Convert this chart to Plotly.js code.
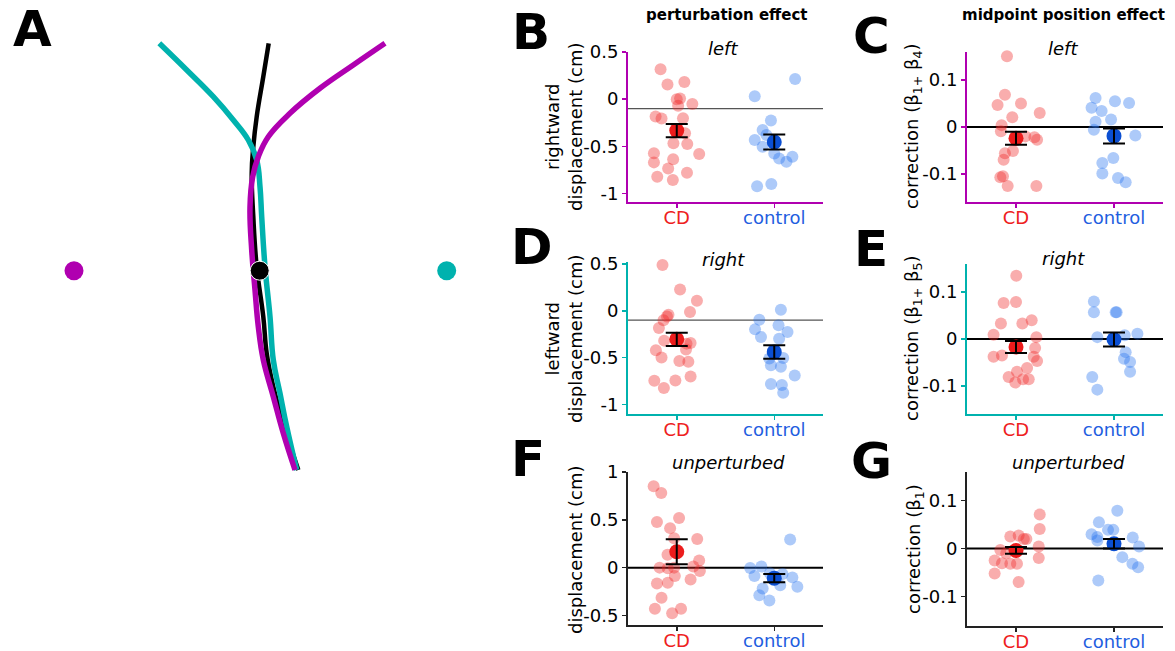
<!DOCTYPE html>
<html><head><meta charset="utf-8">
<script src="https://cdn.plot.ly/plotly-3.0.1.min.js"></script>
<style>body{margin:0;background:#fff}#chart{width:1175px;height:651px}</style>
</head><body><div id="chart"></div>
<script>
// ---------- Panel A: trajectories ----------
const trajBlackX = [268.7,263.3,256.7,253.3,251.7,253.3,256.7,263.3,266.7,273.3,283.3,298.3];
const trajBlackY = [43.3,76.7,116.7,146.7,173.3,216.7,266.7,316.7,353.3,386.7,423.3,470];
const trajTealX = [159.3,186.7,213.3,233.3,248.3,256.7,260,261.7,265,270,273.3,280,286.7,296.7];
const trajTealY = [43.3,70,96.7,120,140,160,186.7,216.7,266.7,316.7,360,393.3,426.7,470];
const trajMagX = [385,353.3,320,290,268.3,258.3,252.7,250,251.7,255,258.3,263.3,273.3,283.3,295];
const trajMagY = [43.3,65,88.3,113.3,136.7,156.7,176.7,206.7,250,290,326.7,360,396.7,433.3,470];
const targetX = [74,259.7,446.7];
const targetY = [270.7,270.7,270.7];

// ---------- Group scatter data ----------
const categories = ['CD','control'];

// B: left, perturbation effect
const cdB_jit = [-0.166,-0.095,0.078,0.034,0.0,0.014,0.16,-0.217,-0.156,0.064,0.085,-0.034,0.108,-0.234,0.23,-0.037,-0.234,-0.088,0.105,-0.2,-0.04];
const cdB = [0.316,0.156,0.181,0.007,0.0,-0.07,-0.05,-0.184,-0.206,-0.202,-0.362,-0.468,-0.475,-0.574,-0.582,-0.638,-0.67,-0.734,-0.78,-0.823,-0.858];
const ctlB_jit = [-0.2,0.214,-0.034,-0.119,-0.2,-0.119,0.0,0.05,0.186,0.125,-0.176,-0.03,-0.08];
const ctlB = [0.032,0.213,-0.227,-0.326,-0.433,-0.504,-0.575,-0.628,-0.61,-0.663,-0.922,-0.9,-0.38];
const meanB = [-0.333,-0.454];
const semB = [0.071,0.08];

// C: left, midpoint position effect
const cdC_jit = [-0.092,-0.113,-0.188,0.051,0.242,-0.038,-0.147,-0.154,0.188,0.215,-0.031,-0.113,-0.126,-0.133,-0.16,-0.085,0.208,0.096];
const cdC = [0.151,0.069,0.047,0.05,0.03,0.021,0.004,-0.009,-0.022,-0.027,-0.051,-0.056,-0.07,-0.105,-0.107,-0.126,-0.126,-0.02];
const ctlC_jit = [-0.188,0.01,0.154,-0.229,-0.126,-0.188,-0.03,-0.205,0.218,-0.007,-0.119,-0.119,0.041,0.119];
const ctlC = [0.062,0.055,0.051,0.041,0.034,0.011,0.016,-0.006,-0.018,-0.066,-0.077,-0.099,-0.109,-0.118];
const meanC = [-0.024,-0.019];
const semC = [0.014,0.016];

// D: right, perturbation effect
const cdD_jit = [-0.146,0.034,0.207,0.136,-0.085,-0.136,-0.183,-0.129,0.1,0.142,-0.214,0.095,-0.156,0.027,0.119,0.142,-0.23,-0.014,-0.132,-0.1];
const cdD = [0.488,0.226,0.106,-0.014,-0.042,-0.1,-0.184,-0.318,-0.35,-0.343,-0.42,-0.413,-0.498,-0.534,-0.544,-0.7,-0.746,-0.742,-0.823,-0.06];
const ctlD_jit = [0.068,-0.153,0.044,-0.197,0.136,-0.136,0.05,-0.05,0.092,-0.034,0.068,0.21,-0.034,0.078,0.092];
const ctlD = [0.011,-0.095,-0.155,-0.198,-0.226,-0.279,-0.297,-0.509,-0.502,-0.58,-0.597,-0.69,-0.78,-0.79,-0.873];
const meanD = [-0.304,-0.438];
const semD = [0.071,0.072];

// E: right, midpoint position effect
const cdE_jit = [0.003,-0.126,0,-0.154,0.065,0.16,-0.229,0.208,0.195,-0.229,-0.143,0.181,0.215,0.113,0.01,-0.075,0.072,0.13,-0.007];
const cdE = [0.135,0.077,0.079,0.033,0.033,0.04,0.009,0.004,-0.019,-0.038,-0.035,-0.038,-0.047,-0.062,-0.07,-0.081,-0.086,-0.086,-0.093];
const ctlE_jit = [-0.205,-0.205,0.017,0.027,-0.17,0.239,0.109,0.119,0.102,0.164,0.164,-0.222,-0.17];
const ctlE = [0.08,0.057,0.057,0.057,0.004,0.011,0.008,-0.028,-0.042,-0.049,-0.07,-0.081,-0.108];
const meanE = [-0.017,-0.001];
const semE = [0.013,0.015];

// F: unperturbed, displacement
const cdF_jit = [-0.237,-0.159,-0.203,0.024,-0.068,-0.027,0.21,-0.095,0.23,-0.176,-0.092,0.17,0.237,-0.02,0.142,-0.203,-0.092,-0.156,-0.224,0.044,-0.047,-0.027];
const cdF = [0.852,0.781,0.477,0.519,0.413,0.307,0.3,0.134,0.074,0,-0.007,0.011,-0.035,-0.088,-0.124,-0.166,-0.159,-0.314,-0.431,-0.431,-0.477,0.0];
const ctlF_jit = [0.163,-0.247,-0.132,-0.044,0.085,0.186,-0.203,0.061,0.237,-0.119,-0.153,-0.05];
const ctlF = [0.293,-0.004,0.011,-0.06,-0.067,-0.102,-0.088,-0.184,-0.201,-0.219,-0.29,-0.343];
const meanF = [0.166,-0.11];
const semF = [0.13,0.044];

// G: unperturbed, correction
const cdG_jit = [0.242,0.242,-0.058,0.027,0.106,0.232,-0.16,-0.099,0.232,-0.218,-0.143,-0.058,0.01,-0.218,0.027,0.08];
const cdG = [0.071,0.041,0.025,0.027,0.02,0.004,-0.003,-0.01,-0.02,-0.025,-0.031,-0.032,-0.032,-0.052,-0.07,0.02];
const ctlG_jit = [0.034,-0.154,-0.061,-0.007,-0.229,-0.17,0.191,-0.17,0.256,0.085,0.188,0.246,-0.16];
const ctlG = [0.079,0.055,0.039,0.039,0.03,0.024,0.023,0.017,0.004,-0.018,-0.032,-0.039,-0.067];
const meanG = [-0.004,0.01];
const semG = [0.007,0.01];

// tick labels
const dispTickVals = [-1,-0.5,0,0.5];
const dispTickText = ['-1','-0.5','0','0.5'];
const dispFTickVals = [-0.5,0,0.5,1];
const dispFTickText = ['-0.5','0','0.5','1'];
const corrTickVals = [-0.1,0,0.1];
const corrTickText = ['-0.1','0','0.1'];

// ---------- styling ----------
const W = 1175, H = 651;
const FONT = 'DejaVu Sans, Liberation Sans, Arial, sans-serif';
const px = x => x / W;
const py = y => 1 - y / H;
const MAG = '#b000b0', TEAL = '#00b2ae';
const RED_PT = 'rgba(240,40,40,0.38)', BLUE_PT = 'rgba(40,115,240,0.38)';
const RED_M = '#ec1c1c', BLUE_M = '#0b4fd2';
const RED_T = '#ee2020', BLUE_T = '#1f5ee0';

const panels = [
  {n:2, cdJ:cdB_jit, cd:cdB, ctJ:ctlB_jit, ct:ctlB, mean:meanB, sem:semB, range:[-1.09,0.5], tv:dispTickVals, tt:dispTickText, col:MAG, ref:-0.1, refCol:'#555555', refW:1.3, dom:[[628,823],[52,202]]},
  {n:3, cdJ:cdC_jit, cd:cdC, ctJ:ctlC_jit, ct:ctlC, mean:meanC, sem:semC, range:[-0.16,0.16], tv:corrTickVals, tt:corrTickText, col:MAG, ref:0, refCol:'#000', refW:2, dom:[[967,1163],[52,202]]},
  {n:4, cdJ:cdD_jit, cd:cdD, ctJ:ctlD_jit, ct:ctlD, mean:meanD, sem:semD, range:[-1.1,0.52], tv:dispTickVals, tt:dispTickText, col:TEAL, ref:-0.1, refCol:'#555555', refW:1.3, dom:[[628,823],[262,414]]},
  {n:5, cdJ:cdE_jit, cd:cdE, ctJ:ctlE_jit, ct:ctlE, mean:meanE, sem:semE, range:[-0.16,0.16], tv:corrTickVals, tt:corrTickText, col:TEAL, ref:0, refCol:'#000', refW:2, dom:[[967,1163],[264,414]]},
  {n:6, cdJ:cdF_jit, cd:cdF, ctJ:ctlF_jit, ct:ctlF, mean:meanF, sem:semF, range:[-0.6,1.0], tv:dispFTickVals, tt:dispFTickText, col:'#222', ref:0, refCol:'#000', refW:2, dom:[[628,823],[472,625]]},
  {n:7, cdJ:cdG_jit, cd:cdG, ctJ:ctlG_jit, ct:ctlG, mean:meanG, sem:semG, range:[-0.162,0.16], tv:corrTickVals, tt:corrTickText, col:'#222', ref:0, refCol:'#000', refW:2, dom:[[967,1163],[472,626]]}
];

const traces = [];
const layout = {
  width: W, height: H, margin:{l:0,r:0,t:0,b:0},
  paper_bgcolor:'#fff', plot_bgcolor:'rgba(0,0,0,0)',
  showlegend:false, font:{family:FONT, size:18, color:'#000'},
  shapes:[], annotations:[]
};

// Panel A
layout.xaxis = {domain:[0, px(500)], range:[0,500], visible:false, fixedrange:true};
layout.yaxis = {domain:[0,1], range:[651,0], visible:false, fixedrange:true};
traces.push({x:trajBlackX, y:trajBlackY, xaxis:'x', yaxis:'y', mode:'lines', line:{color:'#000', width:4.5, shape:'spline', smoothing:1.2}, hoverinfo:'skip'});
traces.push({x:trajTealX, y:trajTealY, xaxis:'x', yaxis:'y', mode:'lines', line:{color:TEAL, width:5.5, shape:'spline', smoothing:1.2}, hoverinfo:'skip'});
traces.push({x:trajMagX, y:trajMagY, xaxis:'x', yaxis:'y', mode:'lines', line:{color:MAG, width:5.5, shape:'spline', smoothing:1.2}, hoverinfo:'skip'});
traces.push({x:targetX, y:targetY, xaxis:'x', yaxis:'y', mode:'markers', marker:{size:19, color:[MAG,'#000',TEAL], line:{color:'#fff', width:[0,1,0]}}, hoverinfo:'skip'});

panels.forEach(p => {
  const xa = 'x'+p.n, ya = 'y'+p.n;
  const axisLine = {showline:true, linecolor:p.col, linewidth:2, ticks:'outside', ticklen:4, tickwidth:1.5, tickcolor:p.col, showgrid:false, zeroline:false, fixedrange:true};
  layout['xaxis'+p.n] = Object.assign({}, axisLine, {
    domain:[px(p.dom[0][0]), px(p.dom[0][1])], anchor:ya, range:[0.5,2.5],
    tickvals:[1,2],
    ticktext:['<span style="color:'+RED_T+'">'+categories[0]+'</span>','<span style="color:'+BLUE_T+'">'+categories[1]+'</span>'],
    tickfont:{size:18, family:FONT}, ticklabelstandoff:-6
  });
  layout['yaxis'+p.n] = Object.assign({}, axisLine, {
    domain:[py(p.dom[1][1]), py(p.dom[1][0])], anchor:xa, range:p.range,
    tickvals:p.tv, ticktext:p.tt, tickfont:{size:18, family:FONT}
  });
  layout.shapes.push({type:'line', xref:xa+' domain', x0:0, x1:1, yref:ya, y0:p.ref, y1:p.ref, line:{color:p.refCol, width:p.refW}, layer:'below'});
  traces.push({x:p.cdJ.map(j=>1+j), y:p.cd, xaxis:xa, yaxis:ya, mode:'markers', marker:{size:12, color:RED_PT, line:{width:0}}, cliponaxis:false, hoverinfo:'y'});
  traces.push({x:p.ctJ.map(j=>2+j), y:p.ct, xaxis:xa, yaxis:ya, mode:'markers', marker:{size:12, color:BLUE_PT, line:{width:0}}, cliponaxis:false, hoverinfo:'y'});
  traces.push({x:[1,2], y:p.mean, xaxis:xa, yaxis:ya, mode:'markers', marker:{size:15, color:[RED_M,BLUE_M], line:{width:0}}, hoverinfo:'y'});
  traces.push({x:[1,2], y:p.mean, xaxis:xa, yaxis:ya, mode:'markers', marker:{size:1, color:'rgba(0,0,0,0)'},
    error_y:{type:'data', array:p.sem, visible:true, color:'#000', thickness:2, width:11}, hoverinfo:'skip'});
});

// text annotations
const ann = (x, y, text, opts) => layout.annotations.push(Object.assign({xref:'paper', yref:'paper', x:px(x), y:py(y), text:text, showarrow:false, xanchor:'center', yanchor:'middle', font:{family:FONT, size:18, color:'#000'}}, opts||{}));
const letter = {family:FONT, size:50, color:'#000'};
ann(32, 29, '<b>A</b>', {font:letter});
ann(531, 32, '<b>B</b>', {font:letter});
ann(871, 36, '<b>C</b>', {font:letter});
ann(532, 247, '<b>D</b>', {font:letter});
ann(871, 249, '<b>E</b>', {font:letter});
ann(528, 459, '<b>F</b>', {font:letter});
ann(871, 461, '<b>G</b>', {font:letter});
ann(727, 15, '<b>perturbation effect</b>', {font:{family:FONT, size:15, color:'#000'}});
ann(1063, 15, '<b>midpoint position effect</b>', {font:{family:FONT, size:15, color:'#000'}});
ann(723, 48, '<i>left</i>');
ann(1063, 48, '<i>left</i>');
ann(723, 259, '<i>right</i>');
ann(1063, 258, '<i>right</i>');
ann(728, 463, '<i>unperturbed</i>');
ann(1068, 463, '<i>unperturbed</i>');
ann(564, 127, 'rightward<br>displacement (cm)', {textangle:-90});
ann(564, 339, 'leftward<br>displacement (cm)', {textangle:-90});
ann(575, 550, 'displacement (cm)', {textangle:-90});
ann(913, 126, 'correction (β<sub>1+</sub> β<sub>4</sub>)', {textangle:-90});
ann(913, 338, 'correction (β<sub>1+</sub> β<sub>5</sub>)', {textangle:-90});
ann(915, 549, 'correction (β<sub>1</sub>)', {textangle:-90});

Plotly.newPlot('chart', traces, layout, {displayModeBar:false, staticPlot:true});
</script></body></html>
